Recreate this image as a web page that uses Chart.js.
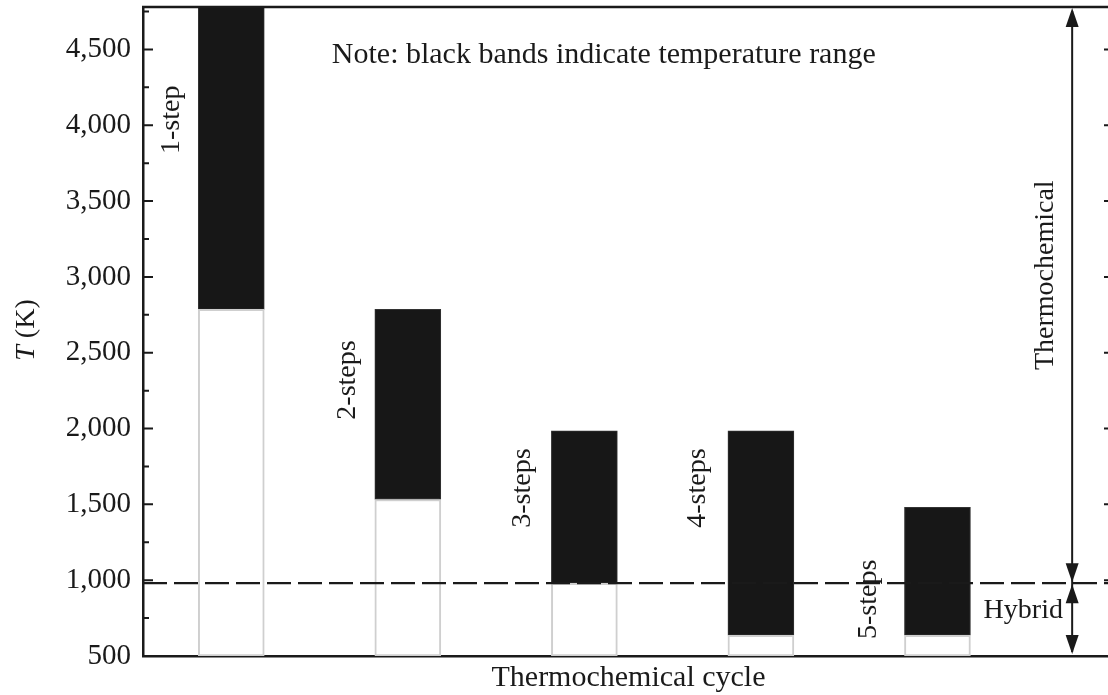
<!DOCTYPE html>
<html>
<head>
<meta charset="utf-8">
<script src="https://cdn.jsdelivr.net/npm/chart.js@4.4.1/dist/chart.umd.min.js"></script>
<style>
    html, body { margin: 0; padding: 0; background: #fff; overflow: hidden; }
    #wrap { width: 1116px; height: 695px; }
</style>
</head>
<body>
<div id="wrap"><canvas id="cycleChart"></canvas></div>
<script>
// Data
const steps = [1, 2, 3, 4, 5];
const stepLabels = ['1-step', '2-steps', '3-steps', '4-steps', '5-steps'];
const lowT = [2786, 1532, 980, 637, 637];
const highT = [5000, 2786, 1985, 1985, 1480];
const yTicks = [500, 1000, 1500, 2000, 2500, 3000, 3500, 4000, 4500];
const axisMinT = 500;
const axisMaxT = 4780;
const hybridLimit = 980;

// where the text annotations sit (axis units)
const stepLabelX = [0.66, 1.66, 2.65, 3.64, 4.61];
const stepLabelT = [4036, 2320, 1607, 1607, 874];

const FONT = '"Liberation Serif", "Times New Roman", serif';
const INK = '#1a1a1a';

function drawArrowHead(ctx, x, y, dir) {
    // dir = -1 points up, 1 points down
    ctx.beginPath();
    ctx.moveTo(x, y);
    ctx.lineTo(x - 6.5, y - dir * 19);
    ctx.lineTo(x + 6.5, y - dir * 19);
    ctx.closePath();
    ctx.fill();
}

const decorations = {
    id: 'decorations',
    afterDatasetsDraw(chart) {
        const ctx = chart.ctx;
        const area = chart.chartArea;
        const xs = chart.scales.x;
        const ys = chart.scales.y;
        ctx.save();
        ctx.strokeStyle = INK;
        ctx.fillStyle = INK;

        // top frame line
        ctx.lineWidth = 2.5;
        ctx.beginPath();
        ctx.moveTo(area.left - 1, area.top);
        ctx.lineTo(area.right, area.top);
        ctx.stroke();
        // right frame line (falls just outside the window)
        ctx.beginPath();
        ctx.moveTo(area.right, area.top);
        ctx.lineTo(area.right, area.bottom);
        ctx.stroke();

        // inward ticks on both sides
        ctx.lineWidth = 2;
        yTicks.forEach(function(v) {
            const py = ys.getPixelForValue(v);
            ctx.beginPath();
            ctx.moveTo(area.left, py);
            ctx.lineTo(area.left + 10, py);
            ctx.moveTo(area.right, py);
            ctx.lineTo(area.right - 10, py);
            ctx.stroke();
            const pm = ys.getPixelForValue(v + 250);
            if (v + 250 < axisMaxT) {
                ctx.beginPath();
                ctx.moveTo(area.left, pm);
                ctx.lineTo(area.left + 6, pm);
                ctx.moveTo(area.right, pm);
                ctx.lineTo(area.right - 6, pm);
                ctx.stroke();
            }
        });

        // dashed thermochemical / hybrid boundary
        const yLim = ys.getPixelForValue(hybridLimit);
        ctx.lineWidth = 2.2;
        ctx.setLineDash([24, 7]);
        ctx.beginPath();
        ctx.moveTo(area.left, yLim);
        ctx.lineTo(area.right, yLim);
        ctx.stroke();
        ctx.setLineDash([]);

        // double arrows
        const ax = xs.getPixelForValue(5.763);
        ctx.lineWidth = 2;
        ctx.beginPath();
        ctx.moveTo(ax, area.top + 4);
        ctx.lineTo(ax, area.bottom - 4);
        ctx.stroke();
        drawArrowHead(ctx, ax, area.top + 1, -1);
        drawArrowHead(ctx, ax, yLim - 1, 1);
        drawArrowHead(ctx, ax, yLim + 1, -1);
        drawArrowHead(ctx, ax, area.bottom - 2, 1);

        // texts
        ctx.textAlign = 'center';
        ctx.textBaseline = 'middle';
        ctx.font = '30px ' + FONT;
        ctx.fillText('Note: black bands indicate temperature range',
            xs.getPixelForValue(3.11), ys.getPixelForValue(4465));

        ctx.font = '28px ' + FONT;
        ctx.fillText('Hybrid', xs.getPixelForValue(5.486), ys.getPixelForValue(800));

        function vText(text, x, y) {
            ctx.save();
            ctx.translate(x, y);
            ctx.rotate(-Math.PI / 2);
            ctx.fillText(text, 0, 0);
            ctx.restore();
        }
        vText('Thermochemical', xs.getPixelForValue(5.615), ys.getPixelForValue(3011));
        stepLabels.forEach(function(lbl, i) {
            vText(lbl, xs.getPixelForValue(stepLabelX[i]), ys.getPixelForValue(stepLabelT[i]));
        });

        // y axis title with italic T
        ctx.save();
        ctx.translate(27, ys.getPixelForValue(2650));
        ctx.rotate(-Math.PI / 2);
        ctx.textAlign = 'left';
        ctx.font = 'italic 28px ' + FONT;
        const wT = ctx.measureText('T').width;
        ctx.font = '28px ' + FONT;
        const wK = ctx.measureText(' (K)').width;
        const start = -(wT + wK) / 2;
        ctx.font = 'italic 28px ' + FONT;
        ctx.fillText('T', start, 0);
        ctx.font = '28px ' + FONT;
        ctx.fillText(' (K)', start + wT, 0);
        ctx.restore();

        ctx.restore();
    }
};

new Chart(document.getElementById('cycleChart'), {
    type: 'bar',
    data: {
        datasets: [
            {
                label: 'below range',
                data: steps.map((s, i) => ({x: s, y: [axisMinT, lowT[i]]})),
                backgroundColor: '#ffffff',
                borderColor: '#cfcfcf',
                borderWidth: 2,
                borderSkipped: false
            },
            {
                label: 'temperature range',
                data: steps.map((s, i) => ({x: s, y: [lowT[i], highT[i]]})),
                backgroundColor: '#171717',
                borderColor: '#333333',
                borderWidth: 1,
                borderSkipped: false
            }
        ]
    },
    options: {
        responsive: true,
        maintainAspectRatio: false,
        animation: false,
        layout: {padding: {left: 0, right: 2, top: 7, bottom: 0}},
        datasets: {bar: {barThickness: 66, grouped: false}},
        plugins: {
            legend: {display: false},
            tooltip: {enabled: false}
        },
        scales: {
            x: {
                type: 'linear',
                min: 0.5,
                max: 6.0,
                offset: false,
                grid: {display: false, drawTicks: false},
                border: {display: true, color: INK, width: 2.5},
                ticks: {display: false},
                title: {
                    display: true,
                    text: 'Thermochemical cycle',
                    color: INK,
                    font: {family: FONT, size: 30, lineHeight: 1},
                    padding: {top: 0, bottom: 2}
                },
                afterFit: function(scale) {
                    scale.height = 39;
                    scale.paddingLeft = 0;
                    scale.paddingRight = 0;
                }
            },
            y: {
                min: axisMinT,
                max: axisMaxT,
                grid: {display: false, drawTicks: false},
                border: {display: true, color: INK, width: 2.5},
                ticks: {
                    padding: 12,
                    color: INK,
                    font: {family: FONT, size: 29},
                    callback: function(v) { return v.toLocaleString('en-US'); }
                },
                afterBuildTicks: function(scale) {
                    scale.ticks = yTicks.map(v => ({value: v}));
                },
                afterFit: function(scale) {
                    scale.width = 143;
                    scale.paddingTop = 0;
                    scale.paddingBottom = 0;
                }
            }
        }
    },
    plugins: [decorations]
});
</script>
</body>
</html>
